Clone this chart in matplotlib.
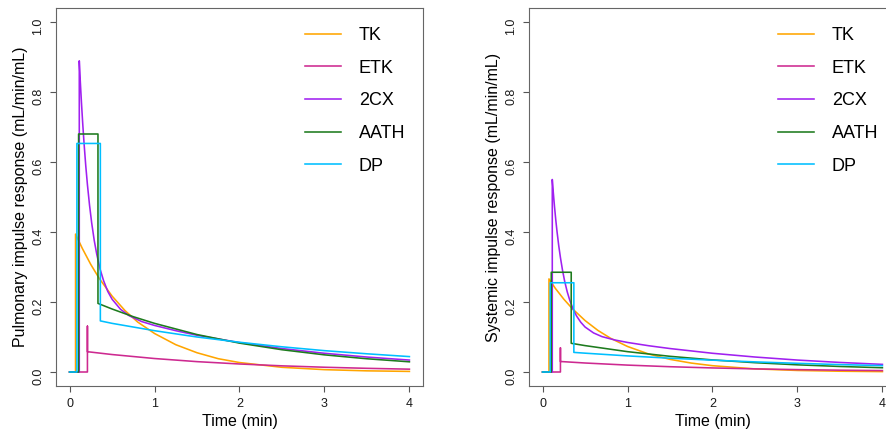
import matplotlib
matplotlib.use('Agg')
import matplotlib.pyplot as plt

plt.rcParams['font.family'] = ['Liberation Sans', 'DejaVu Sans']

models = ['TK', 'ETK', '2CX', 'AATH', 'DP']
colors = ['#FFA500', '#CD2990', '#A020F0', '#1E7B1E', '#00BFFF']

# Pulmonary impulse responses (time in min, response in mL/min/mL)
tk_pul_t = [0, 0.07, 0.07, 0.15, 0.25, 0.35, 0.5, 0.65, 0.8, 1.0, 1.25, 1.5, 1.75, 2.0, 2.5, 3.0, 3.5, 4.0]
tk_pul_v = [0, 0, 0.394, 0.353, 0.307, 0.267, 0.217, 0.176, 0.143, 0.110, 0.078, 0.055, 0.038, 0.027, 0.0134, 0.0067, 0.0033, 0.0017]

etk_pul_t = [0, 0.21, 0.21, 0.21, 0.5, 1.0, 1.5, 2.0, 2.5, 3.0, 3.5, 4.0]
etk_pul_v = [0, 0, 0.131, 0.058, 0.0499, 0.0385, 0.0296, 0.0229, 0.0176, 0.0136, 0.0105, 0.0081]

cx_pul_t = [0, 0.114, 0.114, 0.125, 0.14, 0.155, 0.17, 0.19, 0.21, 0.235, 0.26, 0.29, 0.32, 0.36, 0.4,
            0.45, 0.5, 0.6, 0.7, 0.85, 1.0, 1.25, 1.5, 2.0, 2.5, 3.0, 3.5, 4.0]
cx_pul_v = [0, 0, 0.889, 0.835, 0.768, 0.708, 0.654, 0.590, 0.535, 0.476, 0.426, 0.376, 0.336, 0.293, 0.261,
            0.230, 0.208, 0.179, 0.161, 0.144, 0.133, 0.118, 0.105, 0.084, 0.067, 0.0535, 0.0427, 0.0341]

aath_pul_t = [0, 0.106, 0.106, 0.334, 0.334, 0.5, 0.75, 1.0, 1.5, 2.0, 2.5, 3.0, 3.5, 4.0]
aath_pul_v = [0, 0, 0.68, 0.68, 0.196, 0.180, 0.158, 0.139, 0.107, 0.0825, 0.0636, 0.049, 0.0378, 0.0291]

dp_pul_t = [0, 0.086, 0.086, 0.362, 0.362, 0.5, 1.0, 1.5, 2.0, 2.5, 3.0, 3.5, 4.0]
dp_pul_v = [0, 0, 0.653, 0.653, 0.146, 0.139, 0.118, 0.100, 0.085, 0.072, 0.061, 0.052, 0.044]

# Systemic impulse responses
tk_sys_t = [0, 0.075, 0.075, 0.15, 0.25, 0.35, 0.5, 0.65, 0.8, 1.0, 1.25, 1.5, 1.75, 2.0, 2.5, 3.0, 3.5, 4.0]
tk_sys_v = [0, 0, 0.266, 0.239, 0.208, 0.181, 0.147, 0.119, 0.0964, 0.0729, 0.0513, 0.0361, 0.0255, 0.018, 0.0089, 0.0044, 0.0022, 0.0011]

etk_sys_t = [0, 0.21, 0.21, 0.21, 0.5, 1.0, 1.5, 2.0, 2.5, 3.0, 3.5, 4.0]
etk_sys_v = [0, 0, 0.069, 0.030, 0.0257, 0.0197, 0.0151, 0.0116, 0.0089, 0.0068, 0.0052, 0.0040]

cx_sys_t = cx_pul_t
cx_sys_v = [0, 0, 0.550, 0.516, 0.473, 0.435, 0.401, 0.361, 0.327, 0.290, 0.259, 0.229, 0.205, 0.179, 0.160,
            0.142, 0.1285, 0.1116, 0.101, 0.0915, 0.0844, 0.075, 0.067, 0.0535, 0.0428, 0.0341, 0.0273, 0.0218]

aath_sys_t = [0, 0.102, 0.102, 0.337, 0.337, 0.5, 1.0, 1.5, 2.0, 2.5, 3.0, 3.5, 4.0]
aath_sys_v = [0, 0, 0.285, 0.285, 0.082, 0.0754, 0.0581, 0.0448, 0.0345, 0.0266, 0.0205, 0.0158, 0.0122]

dp_sys_t = [0, 0.09, 0.09, 0.368, 0.368, 0.5, 1.0, 1.5, 2.0, 2.5, 3.0, 3.5, 4.0]
dp_sys_v = [0, 0, 0.255, 0.255, 0.056, 0.0538, 0.046, 0.0394, 0.0338, 0.0289, 0.0248, 0.0212, 0.0182]

x_ticks = [0, 1, 2, 3, 4]
y_ticks = [0.0, 0.2, 0.4, 0.6, 0.8, 1.0]


def draw_panel(ax, series, ylabel):
    for (t, v), name, col in zip(series, models, colors):
        ax.plot(t, v, color=col, lw=1.15, label=name)

    ax.set_xlim(-0.16, 4.16)
    ax.set_ylim(-0.04, 1.04)
    ax.set_xticks(x_ticks)
    ax.set_xticklabels([str(x) for x in x_ticks])
    ax.set_yticks(y_ticks)
    ax.set_yticklabels(['%.1f' % y for y in y_ticks])
    ax.tick_params(axis='both', direction='out', length=4.5, width=0.8,
                   color='#555555', labelsize=9, pad=4, labelcolor='#1a1a1a')
    ax.tick_params(axis='y', labelrotation=90)
    for s in ax.spines.values():
        s.set_color('#666666')
        s.set_linewidth(0.8)

    ax.set_xlabel('Time (min)', fontsize=11.5, labelpad=3)
    ax.set_ylabel(ylabel, fontsize=11.5)
    ax.yaxis.set_label_coords(-28 / 367, 0.5)

    ax.legend(loc='upper left', bbox_to_anchor=(0.678, 0.95), frameon=False,
              fontsize=13, handlelength=2.0, handletextpad=1.0,
              labelspacing=0.87, borderpad=0, borderaxespad=0)


fig = plt.figure(figsize=(8.87, 4.34), dpi=100)
ax1 = fig.add_axes([56 / 887, 48 / 434, 367 / 887, 378 / 434])
ax2 = fig.add_axes([529 / 887, 48 / 434, 367 / 887, 378 / 434])

draw_panel(ax1, [(tk_pul_t, tk_pul_v), (etk_pul_t, etk_pul_v), (cx_pul_t, cx_pul_v),
                 (aath_pul_t, aath_pul_v), (dp_pul_t, dp_pul_v)],
           'Pulmonary impulse response (mL/min/mL)')
draw_panel(ax2, [(tk_sys_t, tk_sys_v), (etk_sys_t, etk_sys_v), (cx_sys_t, cx_sys_v),
                 (aath_sys_t, aath_sys_v), (dp_sys_t, dp_sys_v)],
           'Systemic impulse response (mL/min/mL)')

fig.savefig('out.png', dpi=100)
